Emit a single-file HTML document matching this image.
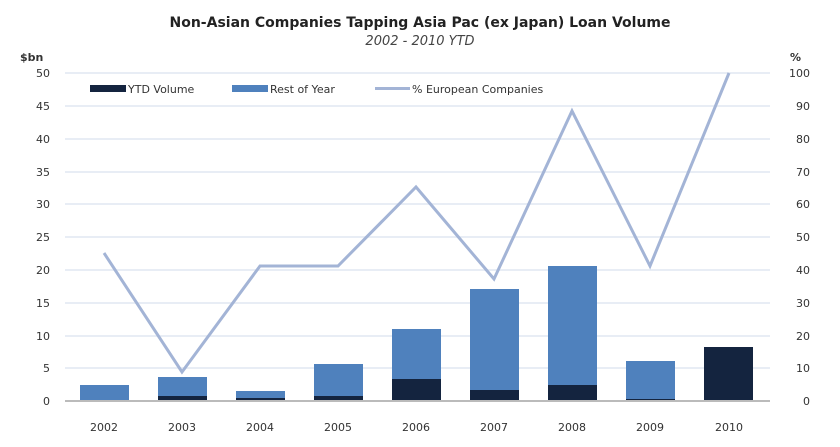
<!DOCTYPE html><html><head><style>body{margin:0;background:#fff}svg{display:block}text{font-family:"DejaVu Sans","Liberation Sans",sans-serif}</style></head><body>
<svg width="840" height="447" viewBox="0 0 840 447">
<text x="420" y="27" text-anchor="middle" font-size="14" font-weight="bold" fill="#222">Non-Asian Companies Tapping Asia Pac (ex Japan) Loan Volume</text>
<text x="420" y="45" text-anchor="middle" font-size="13" font-style="italic" fill="#444">2002 - 2010 YTD</text>
<text x="20" y="61" font-size="11" font-weight="bold" fill="#333">$bn</text>
<text x="790" y="61" font-size="11" font-weight="bold" fill="#333">%</text>
<g stroke="#e8edf5" stroke-width="2">
<line x1="65" x2="770" y1="73" y2="73"/><line x1="65" x2="770" y1="106" y2="106"/><line x1="65" x2="770" y1="139" y2="139"/><line x1="65" x2="770" y1="172" y2="172"/><line x1="65" x2="770" y1="204" y2="204"/><line x1="65" x2="770" y1="237" y2="237"/><line x1="65" x2="770" y1="270" y2="270"/><line x1="65" x2="770" y1="303" y2="303"/><line x1="65" x2="770" y1="336" y2="336"/><line x1="65" x2="770" y1="368" y2="368"/></g>
<g font-size="11" fill="#333" text-anchor="end">
<text x="50" y="77">50</text><text x="50" y="110">45</text><text x="50" y="143">40</text><text x="50" y="176">35</text><text x="50" y="208">30</text><text x="50" y="241">25</text><text x="50" y="274">20</text><text x="50" y="307">15</text><text x="50" y="340">10</text><text x="50" y="372">5</text><text x="50" y="405">0</text></g>
<g font-size="11" fill="#333" text-anchor="end">
<text x="810" y="77">100</text><text x="810" y="110">90</text><text x="810" y="143">80</text><text x="810" y="176">70</text><text x="810" y="208">60</text><text x="810" y="241">50</text><text x="810" y="274">40</text><text x="810" y="307">30</text><text x="810" y="340">20</text><text x="810" y="372">10</text><text x="810" y="405">0</text></g>
<g fill="#4f81bd">
<rect x="80" y="385" width="49" height="16"/><rect x="158" y="377" width="49" height="24"/><rect x="236" y="391" width="49" height="10"/><rect x="314" y="364" width="49" height="37"/><rect x="392" y="329" width="49" height="72"/><rect x="470" y="289" width="49" height="112"/><rect x="548" y="266" width="49" height="135"/><rect x="626" y="361" width="49" height="40"/></g>
<g fill="#14243f">
<rect x="158" y="396" width="49" height="5"/><rect x="236" y="398" width="49" height="3"/><rect x="314" y="396" width="49" height="5"/><rect x="392" y="379" width="49" height="22"/><rect x="470" y="390" width="49" height="11"/><rect x="548" y="385" width="49" height="16"/><rect x="626" y="399" width="49" height="2"/><rect x="704" y="347" width="49" height="54"/></g>
<line x1="65" x2="770" y1="401" y2="401" stroke="#bbb" stroke-width="2"/>
<polyline fill="none" stroke="#a3b4d6" stroke-width="3" points="104,253 182,372 260,266 338,266 416,187 494,279 572,111 650,266 729,73"/>
<g font-size="11" fill="#333" text-anchor="middle">
<text x="104" y="431">2002</text><text x="182" y="431">2003</text><text x="260" y="431">2004</text><text x="338" y="431">2005</text><text x="416" y="431">2006</text><text x="494" y="431">2007</text><text x="572" y="431">2008</text><text x="650" y="431">2009</text><text x="729" y="431">2010</text></g>
<rect x="90" y="85" width="36" height="7" fill="#14243f"/><text x="128" y="93" font-size="11" fill="#333">YTD Volume</text>
<rect x="232" y="85" width="36" height="7" fill="#4f81bd"/><text x="270" y="93" font-size="11" fill="#333">Rest of Year</text>
<line x1="375" x2="410" y1="88.5" y2="88.5" stroke="#a3b4d6" stroke-width="3"/><text x="412" y="93" font-size="11" fill="#333">% European Companies</text>
</svg></body></html>
